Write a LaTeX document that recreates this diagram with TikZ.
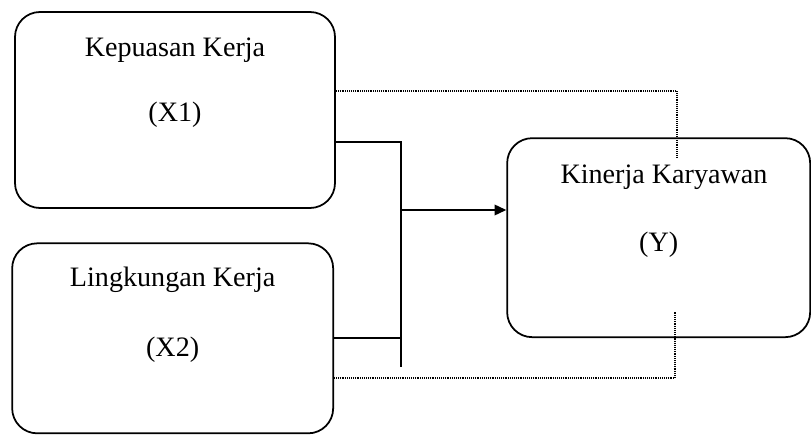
\documentclass[tikz,border=0pt]{standalone}
\usepackage{fontspec}
\setmainfont{Liberation Serif}
\usetikzlibrary{positioning,arrows.meta}

\begin{document}
\begin{tikzpicture}[
		box/.style={rectangle, draw=black, line width=1.5pt, rounded corners=0.75cm},
		lbl/.style={font=\fontsize{24}{28}\selectfont, inner sep=0pt},
		solidline/.style={draw=black, line width=1.5pt},
		arrowline/.style={draw=black, line width=1.5pt, -{Triangle[length=10pt,width=9pt]}},
		dotline/.style={draw=black, line width=1.3pt, dash pattern=on 0.8pt off 0.8pt}
		]
		\useasboundingbox (0,0) rectangle (24.33,-13.08);
		% boxes
		\node[box, minimum width=9.6cm, minimum height=5.88cm] (x1) at (5.25,-3.3) {};
		\node[box, minimum width=9.63cm, minimum height=5.7cm] (x2) at (5.18,-10.15) {};
		\node[box, minimum width=9.09cm, minimum height=5.97cm] (y) at (19.76,-7.13) {};
		% labels
		\node[lbl] (x1a) at ([yshift=-1.17cm]x1.north) {Kepuasan Kerja};
		\node[lbl] (x1b) at ([yshift=-3.12cm]x1.north) {(X1)};
		\node[lbl] (x2a) at ([yshift=-1.11cm]x2.north) {Lingkungan Kerja};
		\node[lbl] (x2b) at ([yshift=-3.21cm]x2.north) {(X2)};
		\node[lbl] (ya) at ([xshift=0.16cm,yshift=-1.2cm]y.north) {Kinerja Karyawan};
		\node[lbl] (yb) at ([yshift=-3.21cm]y.north) {(Y)};
		% joint connectors
		\coordinate (jtop) at (12.03,-4.26);
		\coordinate (jmid) at (12.03,-6.3);
		\coordinate (jbot) at (12.03,-11.01);
		\draw[solidline] (x1.east |- jtop) -- (jtop) -- (jbot);
		\draw[solidline] (x2.east) -- (x2.east -| jtop);
		\draw[arrowline] (jmid) -- (jmid -| y.west);
		% dotted connectors
		\coordinate (d1) at (20.31,-2.73);
		\coordinate (d1end) at (20.31,-4.74);
		\coordinate (d2) at (20.25,-11.34);
		\coordinate (d2end) at (20.25,-9.36);
		\draw[dotline] (x1.east |- d1) -- (d1) -- (d1end);
		\draw[dotline] (x2.east |- d2) -- (d2) -- (d2end);
	\end{tikzpicture}
\end{document}
